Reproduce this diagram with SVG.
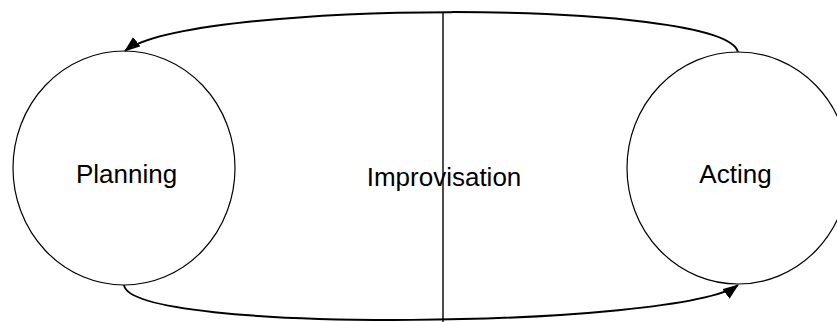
<svg xmlns="http://www.w3.org/2000/svg" width="837" height="322" viewBox="0 0 837 322">
<style>
.node{fill:#fff;stroke:#000;stroke-width:1.2}
.lbl{font-family:"Liberation Sans",Arial,sans-serif;font-size:26px;fill:#000}
.conn{fill:none;stroke:#000;stroke-width:2}
.div{stroke:#000;stroke-width:1.4}
</style>
<defs>
<marker id="arrow" markerUnits="userSpaceOnUse" markerWidth="16" markerHeight="12" refX="15" refY="6" orient="auto">
<path d="M0,0 L16,6 L0,12 Z" fill="#000"/>
</marker>
</defs>
<g id="planning">
<ellipse class="node" cx="124" cy="168" rx="111" ry="117"/>
<text class="lbl" x="126.5" y="183" text-anchor="middle">Planning</text>
</g>
<g id="acting">
<ellipse class="node" cx="738" cy="168" rx="111" ry="116"/>
<text class="lbl" x="735.5" y="183" text-anchor="middle">Acting</text>
</g>
<g id="connectors">
<path class="conn" d="M738,52 C725,-2 190,0 125,51" marker-end="url(#arrow)"/>
<path class="conn" d="M124,285 C130,335 680,328 738,285" marker-end="url(#arrow)"/>
</g>
<g id="improvisation">
<line class="div" x1="443" y1="13" x2="443" y2="322"/>
<text class="lbl" x="444" y="186" text-anchor="middle">Improvisation</text>
</g>
</svg>
